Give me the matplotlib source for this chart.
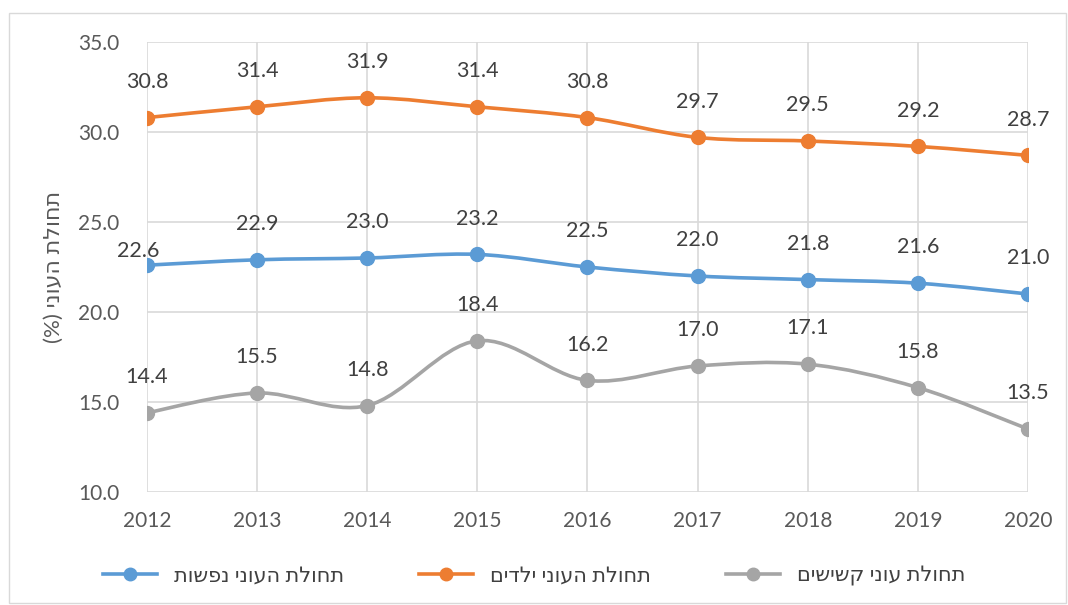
import matplotlib.pyplot as plt
from matplotlib.path import Path
from matplotlib.patches import PathPatch, Rectangle
from matplotlib.lines import Line2D
import numpy as np

years = [2012, 2013, 2014, 2015, 2016, 2017, 2018, 2019, 2020]
persons = [22.6, 22.9, 23.0, 23.2, 22.5, 22.0, 21.8, 21.6, 21.0]
children = [30.8, 31.4, 31.9, 31.4, 30.8, 29.7, 29.5, 29.2, 28.7]
elderly = [14.4, 15.5, 14.8, 18.4, 16.2, 17.0, 17.1, 15.8, 13.5]

names = ["תחולת העוני נפשות", "תחולת העוני ילדים", "תחולת עוני קשישים"]
ylabel = "תחולת העוני"
colors = ["#5B9BD5", "#ED7D31", "#A5A5A5"]

plt.rcParams['font.family'] = ['Lato', 'DejaVu Sans']


def rtl(s):
    # matplotlib has no bidi support, so flip the Hebrew by hand
    return s[::-1]


def smooth_path(x, y, t=1 / 6):
    # Excel-style smoothed line: cubic bezier through every point
    x = np.asarray(x, float)
    y = np.asarray(y, float)
    verts = [(x[0], y[0])]
    codes = [Path.MOVETO]
    n = len(x)
    for i in range(n - 1):
        p0 = (x[max(i - 1, 0)], y[max(i - 1, 0)])
        p1 = (x[i], y[i])
        p2 = (x[i + 1], y[i + 1])
        p3 = (x[min(i + 2, n - 1)], y[min(i + 2, n - 1)])
        c1 = (p1[0] + (p2[0] - p0[0]) * t, p1[1] + (p2[1] - p0[1]) * t)
        c2 = (p2[0] - (p3[0] - p1[0]) * t, p2[1] - (p3[1] - p1[1]) * t)
        verts += [c1, c2, p2]
        codes += [Path.CURVE4] * 3
    return Path(verts, codes)


fig = plt.figure(figsize=(10.68, 6.05), dpi=100)
ax = fig.add_axes([0.1376, 0.1868, 0.8249, 0.7438])

series = [persons, children, elderly]
label_nudge = {(0, 0): (-6, 3)}
for k, (vals, col) in enumerate(zip(series, colors)):
    ax.add_patch(PathPatch(smooth_path(years, vals), fill=False, edgecolor=col,
                           lw=2.6, capstyle='round', zorder=3))
    ax.plot(years, vals, 'o', color=col, ms=10, zorder=4)
    for i, (x, v) in enumerate(zip(years, vals)):
        dx, dy = label_nudge.get((k, i), (0, 18.5))
        ax.annotate(f"{v:.1f}", (x, v), xytext=(dx, dy), textcoords='offset points',
                    ha='center', va='bottom', fontsize=15.5, color='#404040', zorder=5)

ax.set_xlim(2012, 2020)
ax.set_ylim(10, 35)
ax.set_xticks(years)
ax.set_yticks(np.arange(10, 36, 5))
ax.set_yticklabels([f"{v:.1f}" for v in np.arange(10, 36, 5)])
ax.grid(True, color='#D9D9D9', lw=1.2)
ax.set_axisbelow(True)
for s in ax.spines.values():
    s.set_visible(False)
ax.tick_params(length=0, labelsize=15, colors='#595959')
ax.tick_params(axis='x', pad=14)
ax.tick_params(axis='y', pad=20)
ax.set_ylabel("(%) " + rtl(ylabel), fontsize=16, color='#595959', labelpad=10)

handles = [Line2D([], [], color=c, lw=2.6, marker='o', ms=9) for c in colors]
fig.legend(handles, [rtl(n) for n in names], loc='center', bbox_to_anchor=(0.5, 0.048),
           ncol=3, frameon=False, fontsize=15, labelcolor='#404040',
           handlelength=2.6, columnspacing=3.6)

fig.add_artist(Rectangle((0.008, 0.004), 0.99, 0.975, transform=fig.transFigure,
                         fill=False, edgecolor='#D9D9D9', lw=1))

fig.savefig("out.png")
